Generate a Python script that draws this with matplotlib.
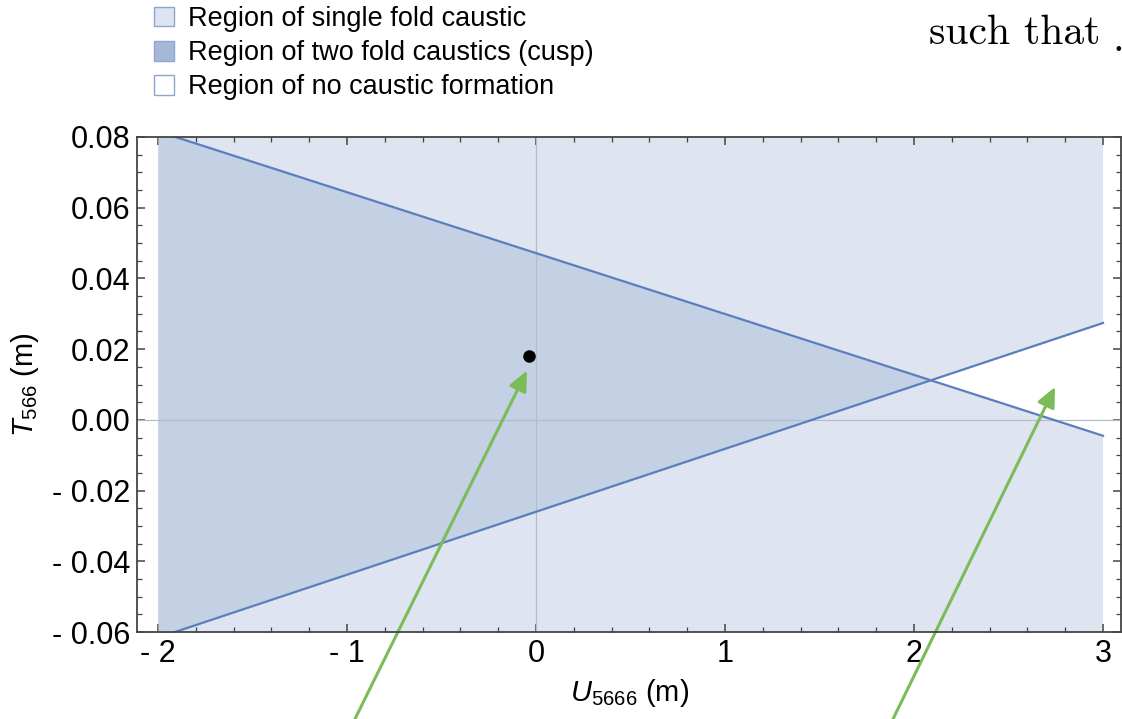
import numpy as np
import matplotlib
matplotlib.use("Agg")
import matplotlib.pyplot as plt
from matplotlib.patches import Patch
from matplotlib.ticker import MultipleLocator, FixedLocator

plt.rcParams['font.family'] = ['Liberation Sans', 'DejaVu Sans']
plt.rcParams['mathtext.fontset'] = 'custom'
plt.rcParams['mathtext.rm'] = 'Liberation Sans'
plt.rcParams['mathtext.it'] = 'Liberation Sans:italic'

# ---- data ----
u_edges = [-2.0, 3.0]                 # U5666 extent of the computed region
upper_fold = [0.0816, -0.0045]        # descending fold line at u_edges
lower_fold = [-0.0616, 0.0274]        # ascending fold line at u_edges
point_u = [-0.037]
point_t = [0.0181]
arrow_tips = [(-0.048, 0.0139), (2.746, 0.0093)]
arrow_tails = [(-1.054, -0.095), (1.794, -0.095)]

x_ticks = [-2, -1, 0, 1, 2, 3]
x_labels = ['- 2', '- 1', '0', '1', '2', '3']
y_ticks = [-0.06, -0.04, -0.02, 0.00, 0.02, 0.04, 0.06, 0.08]
y_labels = ['- 0.06', '- 0.04', '- 0.02', '0.00', '0.02', '0.04', '0.06', '0.08']
legend_labels = ['Region of single fold caustic',
                 'Region of two fold caustics (cusp)',
                 'Region of no caustic formation']

light = '#dee4f0'
dark = '#c4d0e4'
line_c = '#5b7fbc'
green = '#7bbb58'

W, H = 1122, 719
fig = plt.figure(figsize=(W / 100, H / 100), dpi=100)
ax_left, ax_right, ax_bottom, ax_top = 137.3, 1121.0, 632.0, 137.0
ax = fig.add_axes([ax_left / W, (H - ax_bottom) / H,
                   (ax_right - ax_left) / W, (ax_bottom - ax_top) / H])

# intersection of the two fold lines
s1 = (upper_fold[1] - upper_fold[0]) / (u_edges[1] - u_edges[0])
s2 = (lower_fold[1] - lower_fold[0]) / (u_edges[1] - u_edges[0])
xi = u_edges[0] + (lower_fold[0] - upper_fold[0]) / (s1 - s2)
yi = upper_fold[0] + s1 * (xi - u_edges[0])

ax.axvspan(u_edges[0], u_edges[1], color=light, lw=0, zorder=1)
ax.fill_between([u_edges[0], xi], [lower_fold[0], yi], [upper_fold[0], yi],
                color=dark, lw=0, zorder=2)
ax.fill_between([xi, u_edges[1]], [yi, lower_fold[1]], [yi, upper_fold[1]],
                color='white', lw=0, zorder=2)
ax.axhline(0, color='#b4bccb', lw=0.9, zorder=3)
ax.axvline(0, color='#b4bccb', lw=0.9, zorder=3)
ax.plot(u_edges, upper_fold, color=line_c, lw=1.6, zorder=4)
ax.plot(u_edges, lower_fold, color=line_c, lw=1.6, zorder=4)
ax.plot(point_u, point_t, 'o', color='black', ms=8, zorder=5)

for tip, tail in zip(arrow_tips, arrow_tails):
    ax.annotate('', xy=tip, xytext=tail, annotation_clip=False,
                arrowprops=dict(arrowstyle='-|>,head_length=1.2,head_width=0.55',
                                color=green, lw=2.2, shrinkA=0, shrinkB=0),
                zorder=6)

ax.set_xlim(-2.1095, 3.095)
ax.set_ylim(-0.06, 0.08)
ax.xaxis.set_major_locator(FixedLocator(x_ticks))
ax.set_xticklabels(x_labels)
ax.yaxis.set_major_locator(FixedLocator(y_ticks))
ax.set_yticklabels(y_labels)
ax.xaxis.set_minor_locator(MultipleLocator(0.2))
ax.yaxis.set_minor_locator(MultipleLocator(0.005))
ax.tick_params(which='both', direction='in', top=True, right=True,
               color='#444444', labelsize=22, pad=5)
ax.tick_params(which='major', length=6, width=1.1)
ax.tick_params(which='minor', length=3.5, width=0.9)
for sp in ax.spines.values():
    sp.set_color('#444444')
    sp.set_linewidth(1.3)
    sp.set_zorder(7)

ax.set_xlabel(r'$U_{5666}$ (m)', fontsize=21, labelpad=6)
ax.set_ylabel(r'$T_{566}$ (m)', fontsize=21, labelpad=8)

handles = [Patch(facecolor=light, edgecolor='#8ea6cf', lw=1.0),
           Patch(facecolor='#a6b8d8', edgecolor='#8ea6cf', lw=1.0),
           Patch(facecolor='white', edgecolor='#8ea6cf', lw=1.0)]
fig.legend(handles, legend_labels, loc='upper left',
           bbox_to_anchor=(154 / W, 1 - 6 / H), frameon=False, fontsize=19.5,
           handlelength=0.75, handleheight=0.75, handletextpad=0.5,
           labelspacing=0.3, borderaxespad=0, borderpad=0)

fig.text(1100 / W, 1 - 33 / H, 'such that', family='cmr10', fontsize=30,
         ha='right', va='center')
fig.text(1112 / W, 1 - 40 / H, '.', family='cmr10', fontsize=30,
         ha='left', va='center')

fig.savefig('out.png', dpi=100)
